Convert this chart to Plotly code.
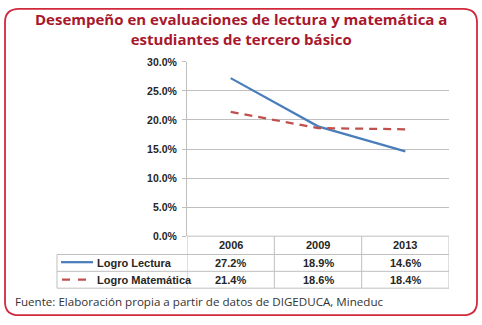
import plotly.graph_objects as go

years = ["2006", "2009", "2013"]
lectura = [0.272, 0.189, 0.146]
matematica = [0.214, 0.186, 0.184]
series_names = ["Logro Lectura", "Logro Matemática"]
title_text = "Desempeño en evaluaciones de lectura y matemática a<br>estudiantes de tercero básico"
source_text = "Fuente: Elaboración propia a partir de datos de DIGEDUCA, Mineduc"

W, H = 482, 325
def px(x): return x / W
def py(y): return 1 - y / H

BLUE = "#4a7ebb"
RED = "#c0504d"
GRID = "#bfbfbf"
CHART_FONT = "Liberation Sans Narrow, Liberation Sans, Arial"
DECOR_FONT = "Open Sans, Lato, sans-serif"

fig = go.Figure()
fig.add_trace(go.Scatter(x=years, y=lectura, mode="lines", name=series_names[0],
                         line=dict(color=BLUE, width=2.25), showlegend=False))
fig.add_trace(go.Scatter(x=years, y=matematica, mode="lines", name=series_names[1],
                         line=dict(color=RED, width=2.25, dash="8px,6px"), showlegend=False))

shapes = []
# rounded border
x0, y0, x1, y1, r = 5, 3, 477, 321, 14
path = (f"M {px(x0+r)},{py(y0)} L {px(x1-r)},{py(y0)} Q {px(x1)},{py(y0)} {px(x1)},{py(y0+r)} "
        f"L {px(x1)},{py(y1-r)} Q {px(x1)},{py(y1)} {px(x1-r)},{py(y1)} "
        f"L {px(x0+r)},{py(y1)} Q {px(x0)},{py(y1)} {px(x0)},{py(y1-r)} "
        f"L {px(x0)},{py(y0+r)} Q {px(x0)},{py(y0)} {px(x0+r)},{py(y0)} Z")
shapes.append(dict(type="path", xref="paper", yref="paper", path=path,
                   line=dict(color="#d02a3c", width=1.8)))

# table grid
row_y = [239, 258, 275.5, 293]
left = 57
for i, yy in enumerate(row_y):
    xs = px(187) if i == 0 else px(left)
    shapes.append(dict(type="line", xref="paper", yref="paper", x0=xs, x1=px(449),
                       y0=py(yy), y1=py(yy), line=dict(color=GRID, width=1)))
shapes.append(dict(type="line", xref="paper", yref="paper", x0=px(left), x1=px(left),
                   y0=py(258), y1=py(293), line=dict(color=GRID, width=1)))
for b in [-0.5, 0.5, 1.5, 2.5]:
    shapes.append(dict(type="line", xref="x", yref="paper", x0=b, x1=b,
                       y0=py(239), y1=py(293), line=dict(color=GRID, width=1)))
# legend keys
shapes.append(dict(type="line", xref="paper", yref="paper", x0=px(61), x1=px(93),
                   y0=py(266), y1=py(266), line=dict(color=BLUE, width=2.25)))
shapes.append(dict(type="line", xref="paper", yref="paper", x0=px(62), x1=px(87),
                   y0=py(284), y1=py(284), line=dict(color=RED, width=2.25, dash="8px,8px")))

annotations = []
annotations.append(dict(text=f"<b>{title_text}</b>", xref="paper", yref="paper",
                        x=px(241), y=py(24), xanchor="center", yanchor="middle",
                        showarrow=False, font=dict(family=DECOR_FONT, size=15, color="#a8182c")))
annotations.append(dict(text=source_text, xref="paper", yref="paper",
                        x=px(13), y=py(307), xanchor="left", yanchor="middle",
                        showarrow=False, font=dict(family=DECOR_FONT, size=11.6, color="#333333")))
cf = dict(family=CHART_FONT, size=11, color="#262626")
for i, yr in enumerate(years):
    annotations.append(dict(text=f"<b>{yr}</b>", xref="x", yref="paper", x=i, y=py(248),
                            xanchor="center", yanchor="middle", showarrow=False, font=cf))
for vals, ymid, name in [(lectura, 266.5, series_names[0]), (matematica, 284.5, series_names[1])]:
    for i, v in enumerate(vals):
        annotations.append(dict(text=f"<b>{v*100:.1f}%</b>", xref="x", yref="paper", x=i,
                                y=py(ymid), xanchor="center", yanchor="middle",
                                showarrow=False, font=cf))
    annotations.append(dict(text=f"<b>{name}</b>", xref="paper", yref="paper", x=px(95),
                            y=py(ymid), xanchor="left", yanchor="middle",
                            showarrow=False, font=cf))

fig.update_layout(
    width=W, height=H, margin=dict(l=0, r=0, t=0, b=0),
    paper_bgcolor="white", plot_bgcolor="white",
    shapes=shapes, annotations=annotations,
    xaxis=dict(domain=[px(187), px(449)], range=[-0.5, 2.5], type="category",
               showticklabels=False, showgrid=False, zeroline=False, showline=False, ticks=""),
    yaxis=dict(domain=[py(239), py(58)], range=[0, 0.30], dtick=0.05, tickformat=".1%",
               showgrid=True, gridcolor=GRID, gridwidth=1, zeroline=False,
               showline=True, linecolor=GRID, linewidth=1,
               ticks="outside", ticklen=4, tickcolor=GRID, ticklabelstandoff=3,
               tickfont=dict(family=CHART_FONT, size=10.5, color="#262626", weight="bold")),
)
fig.write_html("out.html")
